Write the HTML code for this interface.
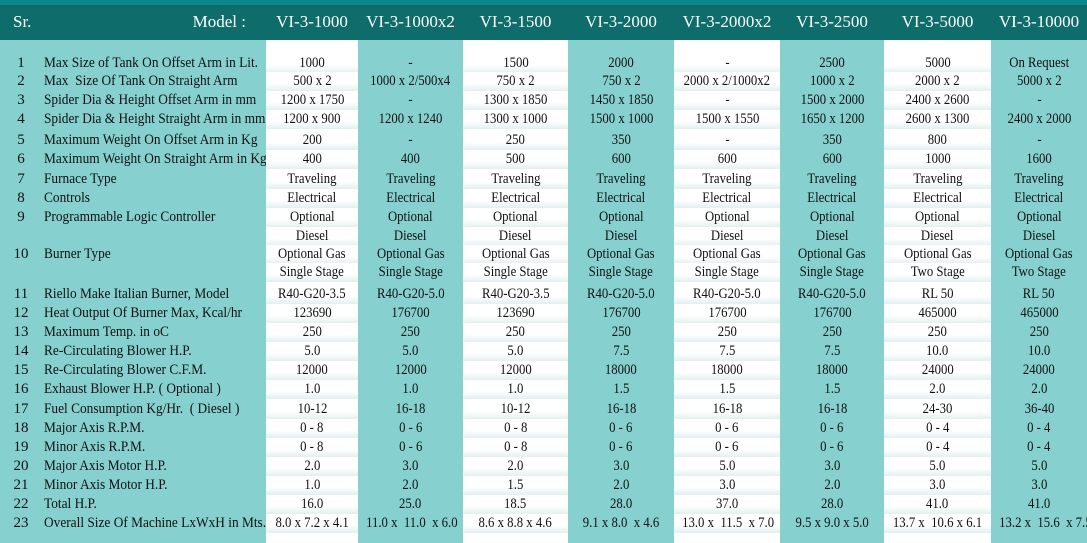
<!DOCTYPE html>
<html><head><meta charset="utf-8"><style>
*{margin:0;padding:0;box-sizing:border-box}
body{width:1087px;height:543px;overflow:hidden;background:#86d0d0;font-family:"Liberation Serif",serif;color:#111;position:relative}
.top{position:absolute;left:0;top:0;width:1087px;height:5px;background:#0b8689}
.hdr{position:absolute;left:0;top:5px;width:1087px;height:35px;background:#0e6c6b;color:#fff;font-size:17px}
.hdr span{position:absolute;top:7px;display:block;text-align:center}
.wc{position:absolute;top:40px;height:503px;background:#fff}
.r{position:absolute;left:0;height:19px;width:1087px;font-size:15px;line-height:19px}
.r .n{position:absolute;left:8px;width:26px;text-align:center}
.r .l{position:absolute;left:44px;white-space:nowrap;transform:scaleX(.89);transform-origin:left}
.r .c{position:absolute;top:0;height:19px;text-align:center;white-space:nowrap}
.r .c i{font-style:normal;display:inline-block;transform:scaleX(.85)}
.w{background:linear-gradient(#fff 60%,#e3efef)}
.a{left:266px;width:92px}.b{left:358px;width:105px}.d{left:463px;width:105px}.e{left:568px;width:106px}
.f{left:674px;width:106px}.g{left:780px;width:104px}.h{left:884px;width:107px}.k{left:991px;width:96px}
</style></head><body>
<div class="top"></div>
<div class="hdr">
<span style="left:13px">Sr.</span>
<span style="left:150px;width:96px;text-align:right">Model :</span>
<span style="left:266px;width:92px">VI-3-1000</span>
<span style="left:358px;width:105px">VI-3-1000x2</span>
<span style="left:463px;width:105px">VI-3-1500</span>
<span style="left:568px;width:106px">VI-3-2000</span>
<span style="left:674px;width:106px">VI-3-2000x2</span>
<span style="left:780px;width:104px">VI-3-2500</span>
<span style="left:884px;width:107px">VI-3-5000</span>
<span style="left:991px;width:96px">VI-3-10000</span>
</div>
<div class="wc" style="left:266px;width:92px"></div>
<div class="wc" style="left:463px;width:105px"></div>
<div class="wc" style="left:674px;width:106px"></div>
<div class="wc" style="left:884px;width:107px"></div>

<div class="r" style="top:54px"><span class="n">1</span><span class="l">Max Size of Tank On Offset Arm in Lit.</span><span class="c a w"><i>1000</i></span><span class="c b"><i>-</i></span><span class="c d w"><i>1500</i></span><span class="c e"><i>2000</i></span><span class="c f w"><i>-</i></span><span class="c g"><i>2500</i></span><span class="c h w"><i>5000</i></span><span class="c k"><i>On Request</i></span></div>
<div class="r" style="top:72px"><span class="n">2</span><span class="l">Max&nbsp; Size Of Tank On Straight Arm</span><span class="c a w"><i>500 x 2</i></span><span class="c b"><i>1000 x 2/500x4</i></span><span class="c d w"><i>750 x 2</i></span><span class="c e"><i>750 x 2</i></span><span class="c f w"><i>2000 x 2/1000x2</i></span><span class="c g"><i>1000 x 2</i></span><span class="c h w"><i>2000 x 2</i></span><span class="c k"><i>5000 x 2</i></span></div>
<div class="r" style="top:91px"><span class="n">3</span><span class="l">Spider Dia &amp; Height Offset Arm in mm</span><span class="c a w"><i>1200 x 1750</i></span><span class="c b"><i>-</i></span><span class="c d w"><i>1300 x 1850</i></span><span class="c e"><i>1450 x 1850</i></span><span class="c f w"><i>-</i></span><span class="c g"><i>1500 x 2000</i></span><span class="c h w"><i>2400 x 2600</i></span><span class="c k"><i>-</i></span></div>
<div class="r" style="top:110px"><span class="n">4</span><span class="l">Spider Dia &amp; Height Straight Arm in mm</span><span class="c a w"><i>1200 x 900</i></span><span class="c b"><i>1200 x 1240</i></span><span class="c d w"><i>1300 x 1000</i></span><span class="c e"><i>1500 x 1000</i></span><span class="c f w"><i>1500 x 1550</i></span><span class="c g"><i>1650 x 1200</i></span><span class="c h w"><i>2600 x 1300</i></span><span class="c k"><i>2400 x 2000</i></span></div>
<div class="r" style="top:131px"><span class="n">5</span><span class="l">Maximum Weight On Offset Arm in Kg</span><span class="c a w"><i>200</i></span><span class="c b"><i>-</i></span><span class="c d w"><i>250</i></span><span class="c e"><i>350</i></span><span class="c f w"><i>-</i></span><span class="c g"><i>350</i></span><span class="c h w"><i>800</i></span><span class="c k"><i>-</i></span></div>
<div class="r" style="top:150px"><span class="n">6</span><span class="l">Maximum Weight On Straight Arm in Kg</span><span class="c a w"><i>400</i></span><span class="c b"><i>400</i></span><span class="c d w"><i>500</i></span><span class="c e"><i>600</i></span><span class="c f w"><i>600</i></span><span class="c g"><i>600</i></span><span class="c h w"><i>1000</i></span><span class="c k"><i>1600</i></span></div>
<div class="r" style="top:170px"><span class="n">7</span><span class="l">Furnace Type</span><span class="c a w"><i>Traveling</i></span><span class="c b"><i>Traveling</i></span><span class="c d w"><i>Traveling</i></span><span class="c e"><i>Traveling</i></span><span class="c f w"><i>Traveling</i></span><span class="c g"><i>Traveling</i></span><span class="c h w"><i>Traveling</i></span><span class="c k"><i>Traveling</i></span></div>
<div class="r" style="top:189px"><span class="n">8</span><span class="l">Controls</span><span class="c a w"><i>Electrical</i></span><span class="c b"><i>Electrical</i></span><span class="c d w"><i>Electrical</i></span><span class="c e"><i>Electrical</i></span><span class="c f w"><i>Electrical</i></span><span class="c g"><i>Electrical</i></span><span class="c h w"><i>Electrical</i></span><span class="c k"><i>Electrical</i></span></div>
<div class="r" style="top:208px"><span class="n">9</span><span class="l">Programmable Logic Controller</span><span class="c a w"><i>Optional</i></span><span class="c b"><i>Optional</i></span><span class="c d w"><i>Optional</i></span><span class="c e"><i>Optional</i></span><span class="c f w"><i>Optional</i></span><span class="c g"><i>Optional</i></span><span class="c h w"><i>Optional</i></span><span class="c k"><i>Optional</i></span></div>
<div class="r" style="top:227px"><span class="c a w"><i>Diesel</i></span><span class="c b"><i>Diesel</i></span><span class="c d w"><i>Diesel</i></span><span class="c e"><i>Diesel</i></span><span class="c f w"><i>Diesel</i></span><span class="c g"><i>Diesel</i></span><span class="c h w"><i>Diesel</i></span><span class="c k"><i>Diesel</i></span></div>
<div class="r" style="top:245px"><span class="n">10</span><span class="l">Burner Type</span><span class="c a w"><i>Optional Gas</i></span><span class="c b"><i>Optional Gas</i></span><span class="c d w"><i>Optional Gas</i></span><span class="c e"><i>Optional Gas</i></span><span class="c f w"><i>Optional Gas</i></span><span class="c g"><i>Optional Gas</i></span><span class="c h w"><i>Optional Gas</i></span><span class="c k"><i>Optional Gas</i></span></div>
<div class="r" style="top:263px"><span class="c a w"><i>Single Stage</i></span><span class="c b"><i>Single Stage</i></span><span class="c d w"><i>Single Stage</i></span><span class="c e"><i>Single Stage</i></span><span class="c f w"><i>Single Stage</i></span><span class="c g"><i>Single Stage</i></span><span class="c h w"><i>Two Stage</i></span><span class="c k"><i>Two Stage</i></span></div>
<div class="r" style="top:285px"><span class="n">11</span><span class="l">Riello Make Italian Burner, Model</span><span class="c a w"><i>R40-G20-3.5</i></span><span class="c b"><i>R40-G20-5.0</i></span><span class="c d w"><i>R40-G20-3.5</i></span><span class="c e"><i>R40-G20-5.0</i></span><span class="c f w"><i>R40-G20-5.0</i></span><span class="c g"><i>R40-G20-5.0</i></span><span class="c h w"><i>RL 50</i></span><span class="c k"><i>RL 50</i></span></div>
<div class="r" style="top:304px"><span class="n">12</span><span class="l">Heat Output Of Burner Max, Kcal/hr</span><span class="c a w"><i>123690</i></span><span class="c b"><i>176700</i></span><span class="c d w"><i>123690</i></span><span class="c e"><i>176700</i></span><span class="c f w"><i>176700</i></span><span class="c g"><i>176700</i></span><span class="c h w"><i>465000</i></span><span class="c k"><i>465000</i></span></div>
<div class="r" style="top:323px"><span class="n">13</span><span class="l">Maximum Temp. in oC</span><span class="c a w"><i>250</i></span><span class="c b"><i>250</i></span><span class="c d w"><i>250</i></span><span class="c e"><i>250</i></span><span class="c f w"><i>250</i></span><span class="c g"><i>250</i></span><span class="c h w"><i>250</i></span><span class="c k"><i>250</i></span></div>
<div class="r" style="top:342px"><span class="n">14</span><span class="l">Re-Circulating Blower H.P.</span><span class="c a w"><i>5.0</i></span><span class="c b"><i>5.0</i></span><span class="c d w"><i>5.0</i></span><span class="c e"><i>7.5</i></span><span class="c f w"><i>7.5</i></span><span class="c g"><i>7.5</i></span><span class="c h w"><i>10.0</i></span><span class="c k"><i>10.0</i></span></div>
<div class="r" style="top:361px"><span class="n">15</span><span class="l">Re-Circulating Blower C.F.M.</span><span class="c a w"><i>12000</i></span><span class="c b"><i>12000</i></span><span class="c d w"><i>12000</i></span><span class="c e"><i>18000</i></span><span class="c f w"><i>18000</i></span><span class="c g"><i>18000</i></span><span class="c h w"><i>24000</i></span><span class="c k"><i>24000</i></span></div>
<div class="r" style="top:380px"><span class="n">16</span><span class="l">Exhaust Blower H.P. ( Optional )</span><span class="c a w"><i>1.0</i></span><span class="c b"><i>1.0</i></span><span class="c d w"><i>1.0</i></span><span class="c e"><i>1.5</i></span><span class="c f w"><i>1.5</i></span><span class="c g"><i>1.5</i></span><span class="c h w"><i>2.0</i></span><span class="c k"><i>2.0</i></span></div>
<div class="r" style="top:400px"><span class="n">17</span><span class="l">Fuel Consumption Kg/Hr.&nbsp; ( Diesel )</span><span class="c a w"><i>10-12</i></span><span class="c b"><i>16-18</i></span><span class="c d w"><i>10-12</i></span><span class="c e"><i>16-18</i></span><span class="c f w"><i>16-18</i></span><span class="c g"><i>16-18</i></span><span class="c h w"><i>24-30</i></span><span class="c k"><i>36-40</i></span></div>
<div class="r" style="top:419px"><span class="n">18</span><span class="l">Major Axis R.P.M.</span><span class="c a w"><i>0 - 8</i></span><span class="c b"><i>0 - 6</i></span><span class="c d w"><i>0 - 8</i></span><span class="c e"><i>0 - 6</i></span><span class="c f w"><i>0 - 6</i></span><span class="c g"><i>0 - 6</i></span><span class="c h w"><i>0 - 4</i></span><span class="c k"><i>0 - 4</i></span></div>
<div class="r" style="top:438px"><span class="n">19</span><span class="l">Minor Axis R.P.M.</span><span class="c a w"><i>0 - 8</i></span><span class="c b"><i>0 - 6</i></span><span class="c d w"><i>0 - 8</i></span><span class="c e"><i>0 - 6</i></span><span class="c f w"><i>0 - 6</i></span><span class="c g"><i>0 - 6</i></span><span class="c h w"><i>0 - 4</i></span><span class="c k"><i>0 - 4</i></span></div>
<div class="r" style="top:457px"><span class="n">20</span><span class="l">Major Axis Motor H.P.</span><span class="c a w"><i>2.0</i></span><span class="c b"><i>3.0</i></span><span class="c d w"><i>2.0</i></span><span class="c e"><i>3.0</i></span><span class="c f w"><i>5.0</i></span><span class="c g"><i>3.0</i></span><span class="c h w"><i>5.0</i></span><span class="c k"><i>5.0</i></span></div>
<div class="r" style="top:476px"><span class="n">21</span><span class="l">Minor Axis Motor H.P.</span><span class="c a w"><i>1.0</i></span><span class="c b"><i>2.0</i></span><span class="c d w"><i>1.5</i></span><span class="c e"><i>2.0</i></span><span class="c f w"><i>3.0</i></span><span class="c g"><i>2.0</i></span><span class="c h w"><i>3.0</i></span><span class="c k"><i>3.0</i></span></div>
<div class="r" style="top:495px"><span class="n">22</span><span class="l">Total H.P.</span><span class="c a w"><i>16.0</i></span><span class="c b"><i>25.0</i></span><span class="c d w"><i>18.5</i></span><span class="c e"><i>28.0</i></span><span class="c f w"><i>37.0</i></span><span class="c g"><i>28.0</i></span><span class="c h w"><i>41.0</i></span><span class="c k"><i>41.0</i></span></div>
<div class="r" style="top:514px"><span class="n">23</span><span class="l">Overall Size Of Machine LxWxH in Mts.</span><span class="c a w"><i>8.0 x 7.2 x 4.1</i></span><span class="c b"><i>11.0 x&nbsp; 11.0&nbsp; x 6.0</i></span><span class="c d w"><i>8.6 x 8.8 x 4.6</i></span><span class="c e"><i>9.1 x 8.0&nbsp; x 4.6</i></span><span class="c f w"><i>13.0 x&nbsp; 11.5&nbsp; x 7.0</i></span><span class="c g"><i>9.5 x 9.0 x 5.0</i></span><span class="c h w"><i>13.7 x&nbsp; 10.6 x 6.1</i></span><span class="c k"><i>13.2 x&nbsp; 15.6&nbsp; x 7.5</i></span></div>
</body></html>
